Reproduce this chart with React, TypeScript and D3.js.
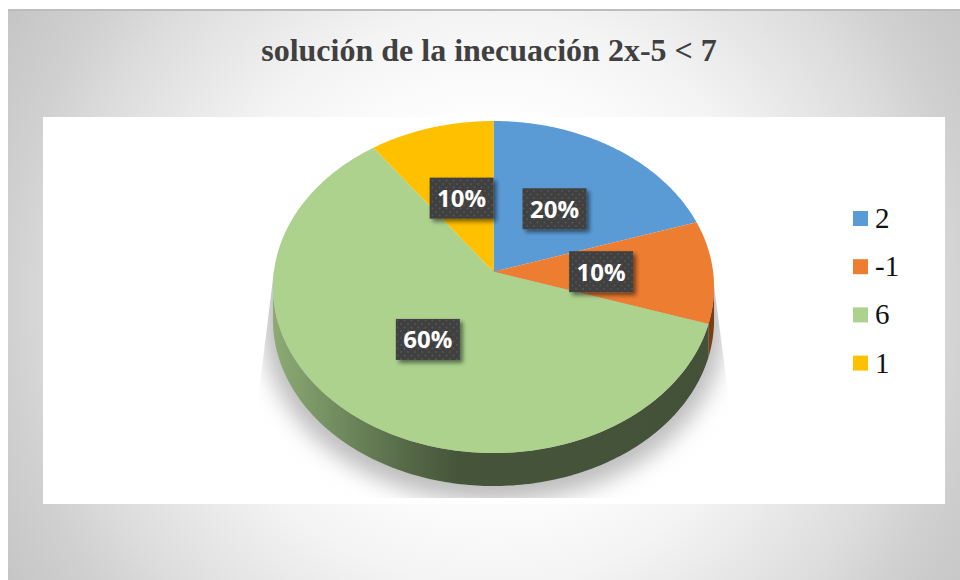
import React from "react";
import * as d3 from "d3";

const categories = ["2", "-1", "6", "1"];
const shares = [20, 10, 60, 10];
const sliceColors = ["#5b9bd5", "#ed7d31", "#acd28e", "#ffc000"];
const wallColors = ["#33577a", "#7a3d14", "url(#wallGreen)", "#8a6800"];
const titleText = "solución de la inecuación 2x-5 < 7";

const W = 960, H = 580;
const cx = 493.5, cy = 271.7, A = 219.6, B = 164.6, K = 0.0922, DEPTH = 33;

// Perspective projection of a point of the unit disc (angle clockwise from 12 o'clock)
const project = (angle: number, f = 1): [number, number] => {
  const u = Math.sin(angle) * f, v = -Math.cos(angle) * f;
  const s = 1 / (1 - K * v);
  return [cx + A * u * s, cy + B * v * s];
};
const sampled = (a0: number, a1: number) => {
  const n = Math.max(2, Math.ceil(Math.abs(a1 - a0) * 60));
  return d3.range(n + 1).map((i) => a0 + ((a1 - a0) * i) / n);
};
const line = d3.line<[number, number]>();
const arcs = d3.pie<number>().sort(null)(shares);
const frontStart = Math.acos(-K), frontEnd = 2 * Math.PI - frontStart;

const topPath = (a0: number, a1: number) =>
  line([[cx, cy], ...sampled(a0, a1).map((a) => project(a))]) + "Z";
const wallPath = (a0: number, a1: number) => {
  const p0 = Math.max(a0, frontStart), p1 = Math.min(a1, frontEnd);
  if (p1 <= p0) return null;
  const edge = sampled(p0, p1).map((a) => project(a));
  const low = edge.map(([x, y]) => [x, y + DEPTH] as [number, number]).reverse();
  return line([...edge, ...low]) + "Z";
};
const outline = line(
  [
    ...sampled(frontStart, frontEnd).map((a) => {
      const [x, y] = project(a);
      return [x, y + DEPTH] as [number, number];
    }),
    ...sampled(frontEnd, frontStart + 2 * Math.PI).map((a) => project(a)),
  ]
) + "Z";

const legendX = 853, legendStep = 48.2, legendTop = 211, swatch = 15;
const boxW = 64, boxH = 41;

export default function App() {
  return (
    <svg
      width={W}
      height={H}
      viewBox={`0 0 ${W} ${H}`}
      style={{ position: "absolute", left: 0, top: 0, display: "block" }}
    >
      <defs>
        <radialGradient id="bg" gradientUnits="userSpaceOnUse" cx={490} cy={300} r={570}>
          <stop offset="0.3" stopColor="#ffffff" />
          <stop offset="0.5" stopColor="#f4f4f4" />
          <stop offset="0.75" stopColor="#dcdcdc" />
          <stop offset="0.85" stopColor="#d0d0d0" />
          <stop offset="1" stopColor="#c4c4c4" />
        </radialGradient>
        <linearGradient id="wallGreen" gradientUnits="userSpaceOnUse" x1={273} x2={714} y1={0} y2={0}>
          <stop offset="0" stopColor="#8cab74" />
          <stop offset="0.3" stopColor="#566a48" />
          <stop offset="0.42" stopColor="#46553a" />
          <stop offset="1" stopColor="#435138" />
        </linearGradient>
        <pattern id="dots" width={7} height={7} patternUnits="userSpaceOnUse">
          <rect width={7} height={7} fill="#404040" />
          <circle cx={2} cy={2} r={1} fill="#555555" />
          <circle cx={5.5} cy={5.5} r={1} fill="#555555" />
        </pattern>
        <filter id="blur" x="-20%" y="-20%" width="140%" height="140%">
          <feGaussianBlur stdDeviation={11} />
        </filter>
        <filter id="boxShadow" x="-20%" y="-20%" width="150%" height="150%">
          <feDropShadow dx={3} dy={3} stdDeviation={2} floodColor="#000" floodOpacity={0.5} />
        </filter>
        <clipPath id="shadowClip">
          <path d="M274 270L712 270L729 400L729 498L258 498L258 400Z" />
        </clipPath>
      </defs>

      <rect x={8} y={9} width={W - 8} height={H - 9} fill="url(#bg)" />
      <rect x={8} y={9} width={W - 8} height={2} fill="#bdbdbd" />
      <rect x={43} y={117} width={902} height={387} fill="#ffffff" />

      <text
        x={489}
        y={61}
        textAnchor="middle"
        fontFamily="'Liberation Serif', serif"
        fontWeight="bold"
        fontSize={32}
        fill="#404040"
      >
        {titleText}
      </text>

      <g clipPath="url(#shadowClip)">
        <path
          d={outline}
          fill="#bdbdbd"
          stroke="#bdbdbd"
          strokeWidth={20}
          filter="url(#blur)"
          transform="translate(0,6)"
        />
      </g>

      {arcs.map((d, i) => {
        const p = wallPath(d.startAngle, d.endAngle);
        return p ? <path key={i} d={p} fill={wallColors[i]} /> : null;
      })}
      {arcs.map((d, i) => (
        <path key={i} d={topPath(d.startAngle, d.endAngle)} fill={sliceColors[i]} />
      ))}

      {arcs.map((d, i) => {
        const [x, y] = project((d.startAngle + d.endAngle) / 2, 0.49);
        const total = d3.sum(shares);
        return (
          <g key={i}>
            <rect
              x={x - boxW / 2}
              y={y - boxH / 2}
              width={boxW}
              height={boxH}
              fill="url(#dots)"
              filter="url(#boxShadow)"
            />
            <text
              x={x}
              y={y + 9}
              textAnchor="middle"
              fontFamily="'Open Sans', sans-serif"
              fontWeight="bold"
              fontSize={24}
              fill="#ffffff"
            >
              {`${Math.round((d.value / total) * 100)}%`}
            </text>
          </g>
        );
      })}

      {categories.map((c, i) => (
        <g key={c}>
          <rect
            x={legendX}
            y={legendTop + i * legendStep}
            width={swatch}
            height={swatch}
            fill={sliceColors[i]}
          />
          <text
            x={legendX + 22}
            y={legendTop + 17 + i * legendStep}
            fontFamily="'Liberation Serif', serif"
            fontSize={29}
            fill="#111111"
          >
            {c}
          </text>
        </g>
      ))}
    </svg>
  );
}
